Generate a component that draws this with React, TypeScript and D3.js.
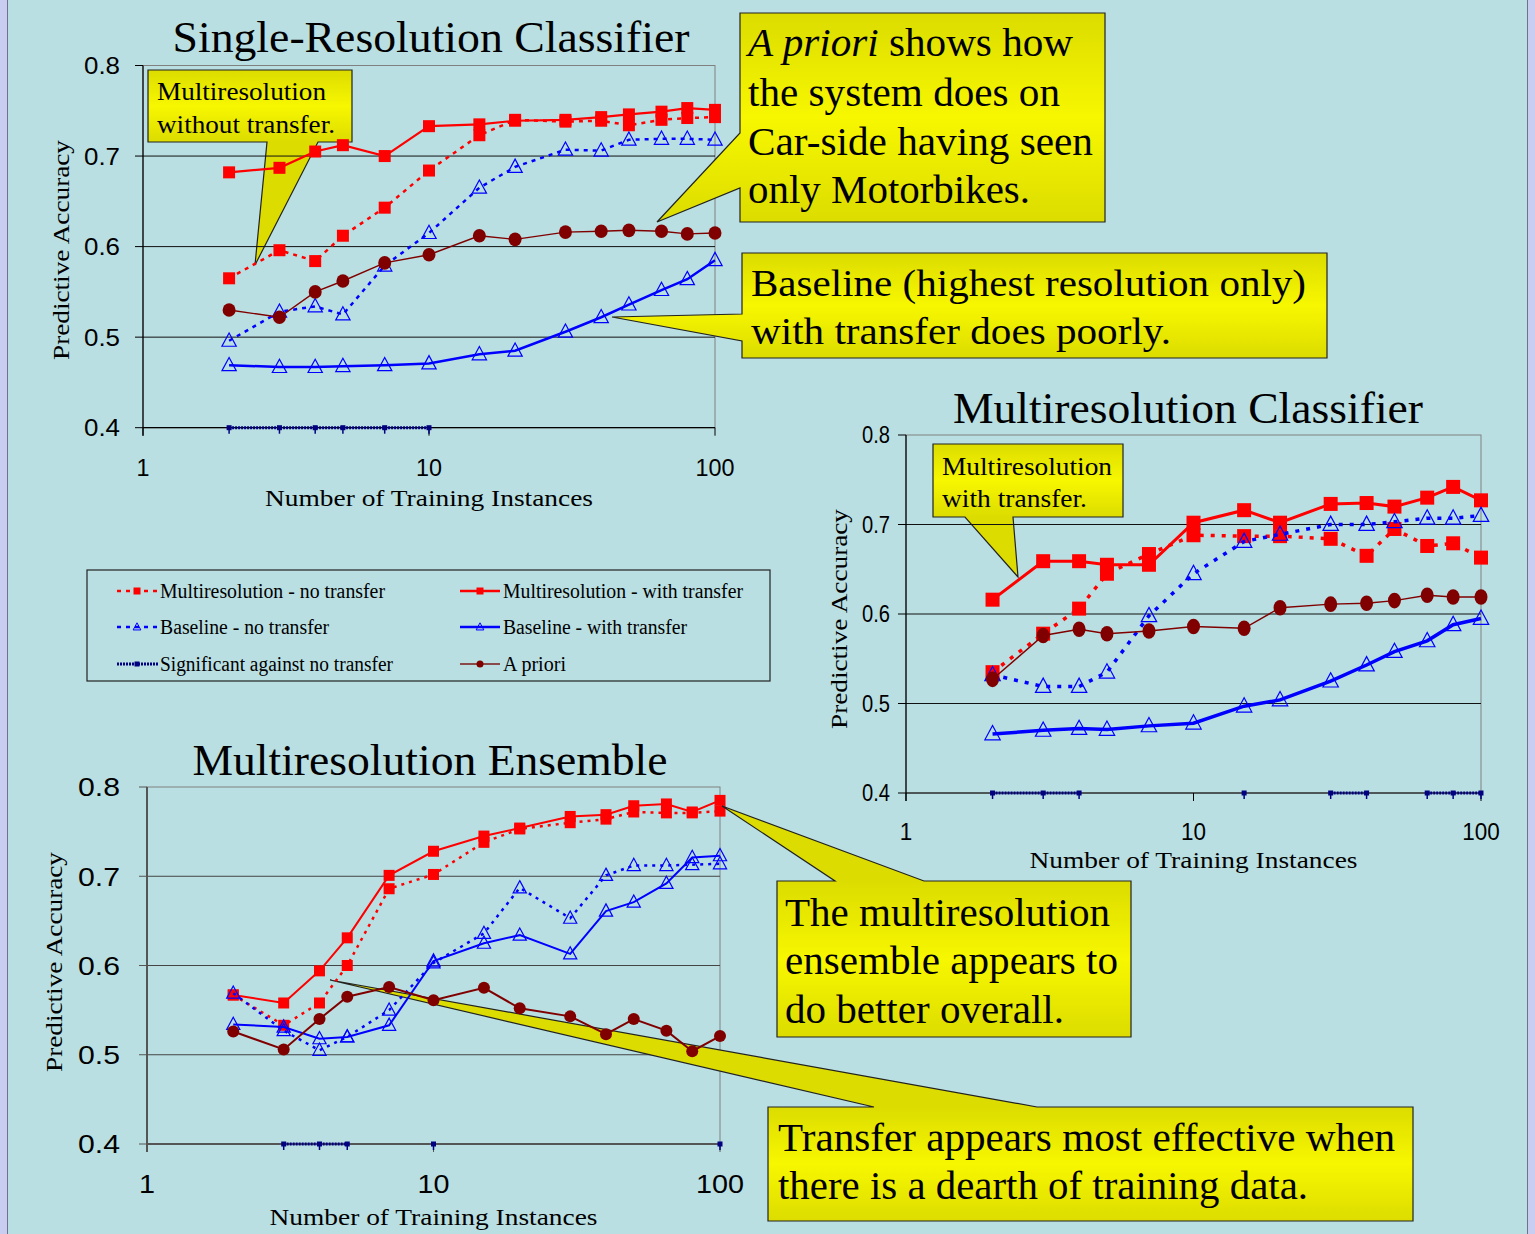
import * as d3 from 'd3';

// x positions shared by every series
const trainingSizes = [2, 3, 4, 5, 7, 10, 15, 20, 30, 40, 50, 65, 80, 100];
const yTicks = [0.4, 0.5, 0.6, 0.7, 0.8];
const xTicks = [1, 10, 100];

// Single-Resolution Classifier
const singleMultiNoTransfer = [0.565, 0.596, 0.584, 0.612, 0.643, 0.684, 0.723, 0.740, 0.738, 0.739, 0.734, 0.740, 0.742, 0.743];
const singleMultiTransfer = [0.682, 0.687, 0.705, 0.712, 0.700, 0.733, 0.735, 0.739, 0.740, 0.743, 0.746, 0.749, 0.753, 0.751];
const singleBaseNoTransfer = [0.496, 0.528, 0.534, 0.525, 0.579, 0.615, 0.665, 0.688, 0.707, 0.706, 0.718, 0.719, 0.719, 0.718];
const singleBaseTransfer = [0.469, 0.467, 0.467, 0.468, 0.469, 0.471, 0.481, 0.485, 0.506, 0.522, 0.536, 0.552, 0.564, 0.585];
const singleAPriori = [0.530, 0.522, 0.550, 0.562, 0.582, 0.591, 0.612, 0.608, 0.616, 0.617, 0.618, 0.617, 0.614, 0.615];
const singleSignificant = [[2, 3, 4, 5, 7, 10]];

// Multiresolution Classifier
const mrMultiNoTransfer = [0.535, 0.578, 0.606, 0.645, 0.667, 0.688, 0.687, 0.687, 0.684, 0.665, 0.695, 0.676, 0.679, 0.663];
const mrMultiTransfer = [0.616, 0.659, 0.659, 0.655, 0.655, 0.702, 0.716, 0.702, 0.723, 0.724, 0.720, 0.730, 0.742, 0.727];
const mrBaseNoTransfer = [0.532, 0.519, 0.519, 0.535, 0.598, 0.645, 0.681, 0.689, 0.700, 0.700, 0.703, 0.707, 0.707, 0.710];
const mrBaseTransfer = [0.466, 0.470, 0.472, 0.471, 0.475, 0.478, 0.497, 0.504, 0.525, 0.543, 0.558, 0.570, 0.588, 0.595];
const mrAPriori = [0.527, 0.576, 0.583, 0.578, 0.581, 0.586, 0.584, 0.607, 0.611, 0.612, 0.615, 0.621, 0.619, 0.619];
const mrSignificant = [[2, 3, 4], [15], [30, 40], [65, 80, 100]];

// Multiresolution Ensemble
const ensMultiNoTransfer = [0.567, 0.533, 0.558, 0.600, 0.686, 0.702, 0.738, 0.753, 0.760, 0.764, 0.772, 0.771, 0.771, 0.773];
const ensMultiTransfer = [0.567, 0.558, 0.594, 0.631, 0.701, 0.728, 0.745, 0.754, 0.767, 0.769, 0.779, 0.781, 0.772, 0.785];
const ensBaseNoTransfer = [0.569, 0.527, 0.505, 0.520, 0.550, 0.603, 0.636, 0.687, 0.653, 0.701, 0.712, 0.712, 0.713, 0.714];
const ensBaseTransfer = [0.534, 0.531, 0.518, 0.520, 0.533, 0.605, 0.625, 0.634, 0.613, 0.661, 0.671, 0.692, 0.721, 0.723];
const ensAPriori = [0.526, 0.506, 0.540, 0.565, 0.576, 0.561, 0.575, 0.552, 0.543, 0.523, 0.540, 0.527, 0.504, 0.521];
const ensSignificant = [[3, 4, 5], [10], [100]];

const legendLabels = [
  'Multiresolution - no transfer', 'Multiresolution - with transfer',
  'Baseline - no transfer', 'Baseline - with transfer',
  'Significant against no transfer', 'A priori',
];

const SERIF = '"Liberation Serif", "Times New Roman", serif';
const SANS = '"Liberation Sans", Arial, sans-serif';
const RED = '#ff0000';
const BLUE = '#0000ff';
const NAVY = '#000080';
const MAROON = '#800000';
const BG = '#b9dfe2';

function Square({ x, y, s, c }: any) {
  return <rect x={x - s / 2} y={y - s / 2} width={s} height={s} fill={c} />;
}
function Tri({ x, y, s, w = 1.2 }: any) {
  const pts = [[x, y - s * 0.6], [x + s * 0.55, y + s * 0.42], [x - s * 0.55, y + s * 0.42]];
  return <polygon points={pts.map(p => p.join(',')).join(' ')} fill="none" stroke={BLUE} strokeWidth={w} />;
}

function Chart({ spec }: any) {
  const x = d3.scaleLog().domain([1, 100]).range([spec.left, spec.right]);
  const y = d3.scaleLinear().domain([0.4, 0.8]).range([spec.bottom, spec.top]);
  const line = d3.line<number>().x((_, i) => x(trainingSizes[i])).y(d => y(d));
  const st = spec.style;
  const [mNo, mYes, bNo, bYes, ap] = spec.series;
  const y04 = y(0.4);
  return (
    <g>
      {/* plot frame */}
      <rect x={spec.left} y={spec.top} width={spec.right - spec.left} height={spec.bottom - spec.top}
        fill="none" stroke="#808080" strokeWidth={1} />
      {yTicks.filter(t => t > 0.4 && t < 0.8).map(t => (
        <line key={t} x1={spec.left} x2={spec.right} y1={y(t)} y2={y(t)} stroke={spec.gridColor} strokeWidth={1} />
      ))}
      <line x1={spec.left} x2={spec.left} y1={spec.top} y2={spec.bottom + 8} stroke={spec.axisColor} strokeWidth={spec.axisW} />
      <line x1={spec.left} x2={spec.right} y1={spec.bottom} y2={spec.bottom} stroke={spec.axisColor} strokeWidth={spec.axisW} />
      {yTicks.map(t => (
        <g key={t}>
          <line x1={spec.left - 8} x2={spec.left} y1={y(t)} y2={y(t)} stroke={spec.axisColor} strokeWidth={1} />
          <text x={spec.yTickX} y={y(t) + spec.yTickFont * 0.36} textAnchor="end" fontFamily={SANS}
            fontSize={spec.yTickFont} textLength={spec.yTickLen} lengthAdjust="spacingAndGlyphs">{t.toFixed(1)}</text>
        </g>
      ))}
      {xTicks.map(t => (
        <g key={t}>
          <line x1={x(t)} x2={x(t)} y1={spec.bottom} y2={spec.bottom + 8} stroke={spec.axisColor} strokeWidth={1} />
          <text x={x(t)} y={spec.xTickY} textAnchor="middle" fontFamily={SANS} fontSize={spec.xTickFont}
            textLength={spec.xTickLen * String(t).length} lengthAdjust="spacingAndGlyphs">{t}</text>
        </g>
      ))}
      {/* titles and axis labels */}
      <text x={spec.titleX} y={spec.titleY} textAnchor="middle" fontFamily={SERIF} fontSize={45}
        textLength={spec.titleLen} lengthAdjust="spacingAndGlyphs">{spec.title}</text>
      <text x={(spec.left + spec.right) / 2} y={spec.xLabelY} textAnchor="middle" fontFamily={SERIF} fontSize={24}
        textLength={328} lengthAdjust="spacingAndGlyphs">Number of Training Instances</text>
      <text transform={`translate(${spec.yLabelX},${spec.yLabelY}) rotate(-90)`} textAnchor="middle" fontFamily={SERIF}
        fontSize={24} textLength={220} lengthAdjust="spacingAndGlyphs">Predictive Accuracy</text>

      {spec.under}

      {/* series */}
      <path d={line(mNo) || ''} fill="none" stroke={RED} strokeWidth={st.dashW} strokeDasharray={st.dash} />
      {mNo.map((v: number, i: number) => <Square key={i} x={x(trainingSizes[i])} y={y(v)} s={st.sq} c={RED} />)}
      <path d={line(mYes) || ''} fill="none" stroke={RED} strokeWidth={st.lineW} />
      {mYes.map((v: number, i: number) => <Square key={i} x={x(trainingSizes[i])} y={y(v)} s={st.sq} c={RED} />)}
      <path d={line(bNo) || ''} fill="none" stroke={BLUE} strokeWidth={st.dashW} strokeDasharray={st.dash} />
      {bNo.map((v: number, i: number) => <Tri key={i} x={x(trainingSizes[i])} y={y(v)} s={st.tri} />)}
      <path d={line(bYes) || ''} fill="none" stroke={BLUE} strokeWidth={st.blueW} />
      {bYes.map((v: number, i: number) => <Tri key={i} x={x(trainingSizes[i])} y={y(v)} s={st.tri} />)}
      {spec.significant.map((seg: number[], k: number) => (
        <g key={k}>
          {seg.length > 1 && (
            <line x1={x(seg[0])} x2={x(seg[seg.length - 1])} y1={y04} y2={y04} stroke={NAVY} strokeWidth={3}
              strokeDasharray="2 1" />
          )}
          {seg.map(s => (
            <g key={s}>
              <rect x={x(s) - 2.5} y={y04 - 2.5} width={5} height={5} fill={NAVY} />
              <line x1={x(s)} x2={x(s)} y1={y04} y2={y04 + 6} stroke={NAVY} strokeWidth={1.5} />
            </g>
          ))}
        </g>
      ))}
      <path d={line(ap) || ''} fill="none" stroke={MAROON} strokeWidth={st.apW} />
      {ap.map((v: number, i: number) => (
        <ellipse key={i} cx={x(trainingSizes[i])} cy={y(v)} rx={st.dot} ry={st.dot * st.dotStretch} fill={MAROON} />
      ))}
    </g>
  );
}

function Callout({ id, d, box, lines, size }: any) {
  return (
    <g>
      <defs>
        <linearGradient id={id} gradientUnits="userSpaceOnUse" x1={0} x2={0} y1={box[1]} y2={box[3]}>
          <stop offset="0" stopColor="#dcdc00" />
          <stop offset="0.5" stopColor="#f7f700" />
          <stop offset="1" stopColor="#dcdc00" />
        </linearGradient>
      </defs>
      <path d={d} fill={`url(#${id})`} stroke="#222" strokeWidth={1.2} />
      {lines.map((l: any, i: number) => (
        <text key={i} x={l.x} y={l.y} fontFamily={SERIF} fontSize={size} textLength={l.len}
          lengthAdjust="spacingAndGlyphs">
          {l.parts ? l.parts.map((p: any, j: number) => (
            <tspan key={j} fontStyle={p.italic ? 'italic' : 'normal'}>{p.t}</tspan>
          )) : l.t}
        </text>
      ))}
    </g>
  );
}

const callout6 = (
  <Callout id="g6" box={[768, 1107, 1413, 1221]} size={40}
    d="M768,1107 H874 L330,980 L1037,1107 H1413 V1221 H768 Z"
    lines={[
      { x: 778, y: 1151, len: 617, t: 'Transfer appears most effective when' },
      { x: 778, y: 1199, len: 530, t: 'there is a dearth of training data.' },
    ]} />
);

export default function App() {
  const specs = [
    {
      title: 'Single-Resolution Classifier', titleX: 431, titleY: 52, titleLen: 517,
      left: 143, right: 715, top: 65.5, bottom: 427.7,
      series: [singleMultiNoTransfer, singleMultiTransfer, singleBaseNoTransfer, singleBaseTransfer, singleAPriori],
      significant: singleSignificant,
      style: { sq: 12, tri: 13, dot: 6.5, dotStretch: 1.05, lineW: 2.2, dashW: 2.5, dash: '4 5', blueW: 2.5, apW: 1.4 },
      gridColor: '#111', axisColor: '#000', axisW: 1.2,
      yTickX: 120, yTickFont: 24, yTickLen: 36, xTickY: 476, xTickFont: 24, xTickLen: 13,
      xLabelY: 506, yLabelX: 69, yLabelY: 250,
    },
    {
      title: 'Multiresolution Classifier', titleX: 1188, titleY: 423, titleLen: 470,
      left: 906, right: 1481, top: 435, bottom: 793,
      series: [mrMultiNoTransfer, mrMultiTransfer, mrBaseNoTransfer, mrBaseTransfer, mrAPriori],
      significant: mrSignificant,
      style: { sq: 14, tri: 14, dot: 6.5, dotStretch: 1.2, lineW: 3, dashW: 3.5, dash: '4 7', blueW: 3.5, apW: 1.4 },
      gridColor: '#111', axisColor: '#000', axisW: 1.2,
      yTickX: 890, yTickFont: 23, yTickLen: 28, xTickY: 840, xTickFont: 23, xTickLen: 12.5,
      xLabelY: 868, yLabelX: 847, yLabelY: 619,
    },
    {
      title: 'Multiresolution Ensemble', titleX: 430, titleY: 775, titleLen: 475,
      left: 147, right: 720, top: 787, bottom: 1144,
      series: [ensMultiNoTransfer, ensMultiTransfer, ensBaseNoTransfer, ensBaseTransfer, ensAPriori],
      significant: ensSignificant,
      style: { sq: 11, tri: 12, dot: 6, dotStretch: 1, lineW: 2, dashW: 2.5, dash: '3 5', blueW: 2, apW: 2 },
      gridColor: '#444', axisColor: '#555', axisW: 2,
      yTickX: 120, yTickFont: 26, yTickLen: 42, xTickY: 1193, xTickFont: 26, xTickLen: 16,
      xLabelY: 1225, yLabelX: 62, yLabelY: 962, under: callout6,
    },
  ];

  const legendRows = [591, 627, 664];
  const legendCols = [117, 460];

  return (
    <svg width={1535} height={1234} style={{ position: 'absolute', left: 0, top: 0, display: 'block' }}>
      <rect x={0} y={0} width={1535} height={1234} fill={BG} />
      <rect x={0} y={0} width={7} height={1234} fill="#c9cdf0" />
      <rect x={1528} y={0} width={7} height={1234} fill="#c9cdf0" />
      <line x1={7.5} x2={7.5} y1={0} y2={1234} stroke="#707090" strokeWidth={1} />
      <line x1={1527.5} x2={1527.5} y1={0} y2={1234} stroke="#707090" strokeWidth={1} />

      <Callout id="g1" box={[148, 70, 352, 142]} size={25}
        d="M148,70 H352 V142 H318 L255,265 L267,142 H148 Z"
        lines={[
          { x: 157, y: 100, len: 169, t: 'Multiresolution' },
          { x: 157, y: 133, len: 178, t: 'without transfer.' },
        ]} />
      <Callout id="g4" box={[933, 444, 1123, 517]} size={25}
        d="M933,444 H1123 V517 H1013 L1018,577 L965,517 H933 Z"
        lines={[
          { x: 942, y: 475, len: 170, t: 'Multiresolution' },
          { x: 942, y: 507, len: 145, t: 'with transfer.' },
        ]} />

      {specs.map((s, i) => <Chart key={i} spec={s} />)}

      <Callout id="g2" box={[740, 13, 1105, 222]} size={40}
        d="M740,13 H1105 V222 H740 V188 L657,222 L740,133 Z"
        lines={[
          { x: 748, y: 56, len: 325, parts: [{ t: 'A priori', italic: true }, { t: ' shows how' }] },
          { x: 748, y: 106, len: 312, t: 'the system does on' },
          { x: 748, y: 155, len: 345, t: 'Car-side having seen' },
          { x: 748, y: 203, len: 282, t: 'only Motorbikes.' },
        ]} />
      <Callout id="g3" box={[742, 253, 1327, 358]} size={38}
        d="M742,253 H1327 V358 H742 V341 L612,317 L742,314 Z"
        lines={[
          { x: 751, y: 296, len: 555, t: 'Baseline (highest resolution only)' },
          { x: 751, y: 344, len: 420, t: 'with transfer does poorly.' },
        ]} />
      <Callout id="g5" box={[777, 881, 1131, 1037]} size={40}
        d="M777,881 H835 L722,806 L924,881 H1131 V1037 H777 Z"
        lines={[
          { x: 785, y: 926, len: 325, t: 'The multiresolution' },
          { x: 785, y: 974, len: 333, t: 'ensemble appears to' },
          { x: 785, y: 1023, len: 279, t: 'do better overall.' },
        ]} />

      {/* legend */}
      <rect x={87} y={570} width={683} height={111} fill="none" stroke="#222" strokeWidth={1.2} />
      {legendLabels.map((lab, i) => {
        const cx = legendCols[i % 2];
        const cy = legendRows[Math.floor(i / 2)];
        const mid = cx + 20;
        const lens = [225, 240, 169, 184, 233, 63];
        let sample;
        if (i === 0) sample = <g><line x1={cx} x2={cx + 40} y1={cy} y2={cy} stroke={RED} strokeWidth={2.5} strokeDasharray="4 5" /><Square x={mid} y={cy} s={7} c={RED} /></g>;
        else if (i === 1) sample = <g><line x1={cx} x2={cx + 40} y1={cy} y2={cy} stroke={RED} strokeWidth={2.5} /><Square x={mid} y={cy} s={7} c={RED} /></g>;
        else if (i === 2) sample = <g><line x1={cx} x2={cx + 40} y1={cy} y2={cy} stroke={BLUE} strokeWidth={2.5} strokeDasharray="4 5" /><Tri x={mid} y={cy} s={7} w={1} /></g>;
        else if (i === 3) sample = <g><line x1={cx} x2={cx + 40} y1={cy} y2={cy} stroke={BLUE} strokeWidth={2.5} /><Tri x={mid} y={cy} s={7} w={1} /></g>;
        else if (i === 4) sample = <g><line x1={cx} x2={cx + 42} y1={cy} y2={cy} stroke={NAVY} strokeWidth={3} strokeDasharray="2 1" /><rect x={mid - 2.5} y={cy - 2.5} width={5} height={5} fill={NAVY} /></g>;
        else sample = <g><line x1={cx} x2={cx + 40} y1={cy} y2={cy} stroke="#8a4a4a" strokeWidth={2} /><circle cx={mid} cy={cy} r={3.5} fill={MAROON} /></g>;
        return (
          <g key={lab}>
            {sample}
            <text x={cx + 43} y={cy + 7} fontFamily={SERIF} fontSize={20} textLength={lens[i]}
              lengthAdjust="spacingAndGlyphs">{lab}</text>
          </g>
        );
      })}
    </svg>
  );
}
